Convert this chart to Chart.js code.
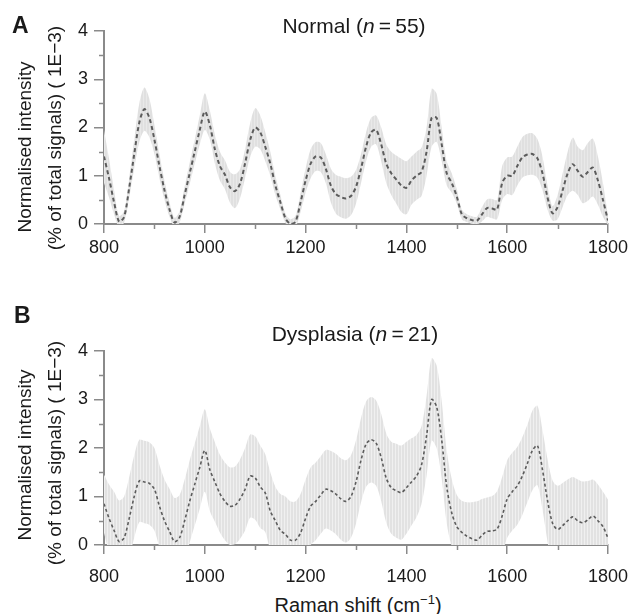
<!DOCTYPE html>
<html>
<head>
<meta charset="utf-8">
<script src="https://cdn.jsdelivr.net/npm/chart.js@4/dist/chart.umd.min.js"></script>
<style>
  html, body { margin: 0; padding: 0; background: #fff; }
  body { width: 631px; height: 614px; position: relative; overflow: hidden;
         font-family: "Liberation Sans", Arial, sans-serif; color: #1a1a1a; }
  canvas { position: absolute; left: 0; }
  .lbl { position: absolute; white-space: nowrap; font-size: 21px; line-height: 1; }
  .panel { position: absolute; font-weight: bold; font-size: 23px; line-height: 1; }
  .ytitle { position: absolute; white-space: nowrap; font-size: 19px; line-height: 1;
            transform: translate(-50%, -50%) rotate(-90deg); }
  .ctr { transform: translate(-50%, -50%); }
</style>
</head>
<body>
<canvas id="chA" width="631" height="260" style="top:0"></canvas>
<canvas id="chB" width="631" height="270" style="top:320px"></canvas>

<div class="panel" style="left:12px;top:14px">A</div>
<div class="lbl ctr" style="left:354px;top:25px">Normal (<i>n</i>&#8201;=&#8201;55)</div>
<div class="ytitle" style="left:24px;top:147px">Normalised intensity</div>
<div class="ytitle" style="left:54px;top:138px">(% of total signals) ( 1E−3)</div>

<div class="panel" style="left:14px;top:304px">B</div>
<div class="lbl ctr" style="left:355px;top:333px">Dysplasia (<i>n</i>&#8201;=&#8201;21)</div>
<div class="ytitle" style="left:24px;top:455px">Normalised intensity</div>
<div class="ytitle" style="left:54px;top:453px">(% of total signals) ( 1E−3)</div>

<div class="lbl ctr" style="left:358px;top:604px;font-size:20px">Raman shift (cm<sup style="font-size:13px">−1</sup>)</div>

<script>
// Raman shift grid (cm^-1)
const shift = [
  800, 810, 820, 830, 840, 850, 860, 870, 880, 890,
  900, 910, 920, 930, 940, 950, 960, 970, 980, 990,
  1000, 1010, 1020, 1030, 1040, 1050, 1060, 1070, 1080, 1090,
  1100, 1110, 1120, 1130, 1140, 1150, 1160, 1170, 1180, 1190,
  1200, 1210, 1220, 1230, 1240, 1250, 1260, 1270, 1280, 1290,
  1300, 1310, 1320, 1330, 1340, 1350, 1360, 1370, 1380, 1390,
  1400, 1410, 1420, 1430, 1440, 1450, 1460, 1470, 1480, 1490,
  1500, 1510, 1520, 1530, 1540, 1550, 1560, 1570, 1580, 1590,
  1600, 1610, 1620, 1630, 1640, 1650, 1660, 1670, 1680, 1690,
  1700, 1710, 1720, 1730, 1740, 1750, 1760, 1770, 1780, 1790,
  1800
];

// Normal (n=55): mean and spread, x 1E-3
const normalMean = [
  1.4, 0.95, 0.45, 0.05, 0.15, 0.75, 1.45, 2.1, 2.38, 2.2,
  1.75, 1.2, 0.7, 0.3, 0.03, 0.15, 0.6, 1.05, 1.5, 1.95,
  2.33, 2.05, 1.55, 1.2, 1.02, 0.76, 0.68, 0.84, 1.26, 1.74,
  2.0, 1.9, 1.6, 1.25, 0.8, 0.45, 0.12, 0.0, 0.05, 0.45,
  0.9, 1.25, 1.4, 1.38, 1.15, 0.8, 0.62, 0.56, 0.53, 0.58,
  0.77, 1.15, 1.6, 1.9, 1.95, 1.65, 1.25, 1.05, 0.92, 0.8,
  0.75, 0.9, 1.0, 1.08, 1.5, 2.2, 2.2, 1.65, 1.05, 0.85,
  0.57, 0.2, 0.12, 0.08, 0.07, 0.2, 0.33, 0.32, 0.3, 0.85,
  1.0, 1.0, 1.2, 1.38, 1.44, 1.45, 1.36, 1.05, 0.55, 0.22,
  0.35, 0.7, 1.05, 1.24, 1.1, 0.98, 1.08, 1.17, 0.9, 0.5,
  0.07
];
const normalSd = [
  0.55, 0.4, 0.25, 0.12, 0.12, 0.2, 0.3, 0.4, 0.45, 0.4,
  0.3, 0.25, 0.2, 0.15, 0.1, 0.12, 0.18, 0.22, 0.25, 0.3,
  0.38, 0.3, 0.3, 0.3, 0.3, 0.32, 0.35, 0.3, 0.3, 0.35,
  0.4, 0.35, 0.3, 0.25, 0.2, 0.15, 0.1, 0.1, 0.12, 0.2,
  0.25, 0.3, 0.3, 0.3, 0.3, 0.35, 0.4, 0.42, 0.42, 0.4,
  0.35, 0.3, 0.3, 0.3, 0.3, 0.35, 0.4, 0.45, 0.5, 0.55,
  0.55, 0.5, 0.5, 0.5, 0.5, 0.6, 0.5, 0.35, 0.25, 0.2,
  0.15, 0.1, 0.08, 0.08, 0.08, 0.15, 0.18, 0.2, 0.2, 0.35,
  0.38, 0.4, 0.4, 0.42, 0.43, 0.43, 0.4, 0.35, 0.25, 0.15,
  0.25, 0.35, 0.45, 0.55, 0.5, 0.55, 0.6, 0.6, 0.5, 0.35,
  0.1
];

// Dysplasia (n=21)
const dysMean = [
  0.85, 0.55, 0.3, 0.07, 0.15, 0.55, 1.0, 1.32, 1.3, 1.27,
  1.15, 0.8, 0.5, 0.28, 0.07, 0.15, 0.5, 0.9, 1.25, 1.6,
  1.95, 1.55, 1.3, 1.06, 0.9, 0.8, 0.82, 0.95, 1.15, 1.42,
  1.38, 1.2, 1.07, 0.7, 0.5, 0.3, 0.22, 0.1, 0.1, 0.25,
  0.55, 0.8, 0.9, 1.03, 1.15, 1.12, 1.05, 0.95, 0.9, 1.0,
  1.3, 1.75, 2.08, 2.17, 2.1, 1.8, 1.38, 1.18, 1.12, 1.08,
  1.18, 1.3, 1.42, 1.65, 2.25, 3.0, 2.85, 2.17, 1.2, 0.66,
  0.38, 0.26, 0.18, 0.13, 0.1, 0.2, 0.28, 0.29, 0.33, 0.6,
  0.95, 1.1, 1.22, 1.42, 1.68, 1.95, 2.05, 1.55, 0.92, 0.45,
  0.32, 0.4, 0.5, 0.58, 0.5, 0.46, 0.52, 0.6, 0.5, 0.38,
  0.14
];
const dysSd = [
  0.6, 0.7, 0.8, 0.85, 0.85, 0.85, 0.85, 0.85, 0.85, 0.85,
  0.85, 0.85, 0.85, 0.88, 0.9, 0.88, 0.85, 0.85, 0.85, 0.85,
  0.85, 0.85, 0.82, 0.8, 0.8, 0.8, 0.8, 0.82, 0.85, 0.86,
  0.86, 0.85, 0.8, 0.8, 0.7, 0.75, 0.78, 0.8, 0.8, 0.8,
  0.8, 0.8, 0.8, 0.8, 0.81, 0.82, 0.83, 0.84, 0.85, 0.85,
  0.86, 0.87, 0.88, 0.88, 0.88, 0.9, 0.92, 0.95, 0.97, 0.97,
  0.95, 0.9, 0.85, 0.8, 0.82, 0.85, 0.85, 0.8, 0.75, 0.7,
  0.65, 0.65, 0.7, 0.75, 0.8, 0.75, 0.7, 0.72, 0.78, 0.8,
  0.8, 0.8, 0.8, 0.8, 0.8, 0.82, 0.82, 0.82, 0.85, 0.88,
  0.9, 0.88, 0.85, 0.82, 0.85, 0.85, 0.8, 0.75, 0.75, 0.72,
  0.8
];

const xMajor = [800, 1000, 1200, 1400, 1600, 1800];
const xMinor = [900, 1100, 1300, 1500, 1700];
const yMajor = [0, 1, 2, 3, 4];
const yMinor = [0.5, 1.5, 2.5, 3.5];

const AXIS = '#8a8a8a';
const FONT = { family: '"Liberation Sans", Arial, sans-serif', size: 18 };

const pts = (ys) => ys.map((y, i) => ({ x: shift[i], y }));

// the error band is really a comb of thin vertical bars: fake it with a striped fill
function stripes(dark, light) {
  const c = document.createElement('canvas');
  c.width = 3; c.height = 1;
  const g = c.getContext('2d');
  g.fillStyle = dark; g.fillRect(0, 0, 2, 1);
  g.fillStyle = light; g.fillRect(2, 0, 1, 1);
  return g.createPattern(c, 'repeat');
}

// short minor ticks hanging off both axes
const minorTicks = {
  id: 'minorTicks',
  afterDraw(chart) {
    const { ctx, scales: { x, y } } = chart;
    ctx.save();
    ctx.strokeStyle = AXIS;
    ctx.lineWidth = 1.5;
    ctx.beginPath();
    yMinor.forEach(v => {
      const py = Math.round(y.getPixelForValue(v)) + 0.5;
      ctx.moveTo(x.left - 5, py); ctx.lineTo(x.left, py);
    });
    xMinor.forEach(v => {
      const px = Math.round(x.getPixelForValue(v)) + 0.5;
      ctx.moveTo(px, y.bottom); ctx.lineTo(px, y.bottom + 5);
    });
    ctx.stroke();
    ctx.restore();
  }
};

function panel(id, mean, sd, opts) {
  const upper = mean.map((m, i) => m + sd[i]);
  const lower = mean.map((m, i) => m - sd[i]);
  return new Chart(document.getElementById(id), {
    type: 'line',
    data: {
      datasets: [
        { data: pts(mean), borderColor: '#5c5c5c', borderWidth: opts.lw,
          borderDash: opts.dash, pointRadius: 0, tension: 0.3, fill: false },
        { data: pts(upper), borderWidth: 0, borderColor: 'rgba(0,0,0,0)',
          backgroundColor: opts.band, pointRadius: 0, tension: 0.3, fill: '+1' },
        { data: pts(lower), borderWidth: 0, borderColor: 'rgba(0,0,0,0)',
          pointRadius: 0, tension: 0.3, fill: false },
      ],
    },
    options: {
      responsive: false, animation: false,
      layout: { padding: { left: 0, right: 23, top: 31, bottom: 0 } },
      plugins: { legend: { display: false }, tooltip: { enabled: false } },
      scales: {
        x: {
          type: 'linear', min: 800, max: 1800,
          afterBuildTicks: s => { s.ticks = xMajor.map(v => ({ value: v })); },
          afterFit: s => { s.height = opts.xh; s.paddingLeft = 0; s.paddingRight = 0; },
          border: { color: AXIS, width: 2 },
          grid: { drawOnChartArea: false, color: AXIS, lineWidth: 1.5, tickLength: 9 },
          ticks: { color: '#1a1a1a', font: FONT, padding: opts.xpad, maxRotation: 0,
                   autoSkip: false, callback: v => String(v) },
        },
        y: {
          min: 0, max: 4,
          afterBuildTicks: s => { s.ticks = yMajor.map(v => ({ value: v })); },
          afterFit: s => { s.width = 104; s.paddingTop = 0; s.paddingBottom = 0; },
          border: { color: AXIS, width: 2 },
          grid: { drawOnChartArea: false, color: AXIS, lineWidth: 1.5, tickLength: 10 },
          ticks: { color: '#1a1a1a', font: FONT, padding: 6, callback: v => String(v) },
        },
      },
    },
    plugins: [minorTicks],
  });
}

panel('chA', normalMean, normalSd,
  { lw: 2, dash: [4, 3], xh: 36, xpad: 4, band: stripes('#e0e0e0', '#e9e9e9') });
panel('chB', dysMean, dysSd,
  { lw: 1.6, dash: [3, 2.5], xh: 45, xpad: 12, band: stripes('#e2e2e2', '#f0f0f0') });
</script>
</body>
</html>
